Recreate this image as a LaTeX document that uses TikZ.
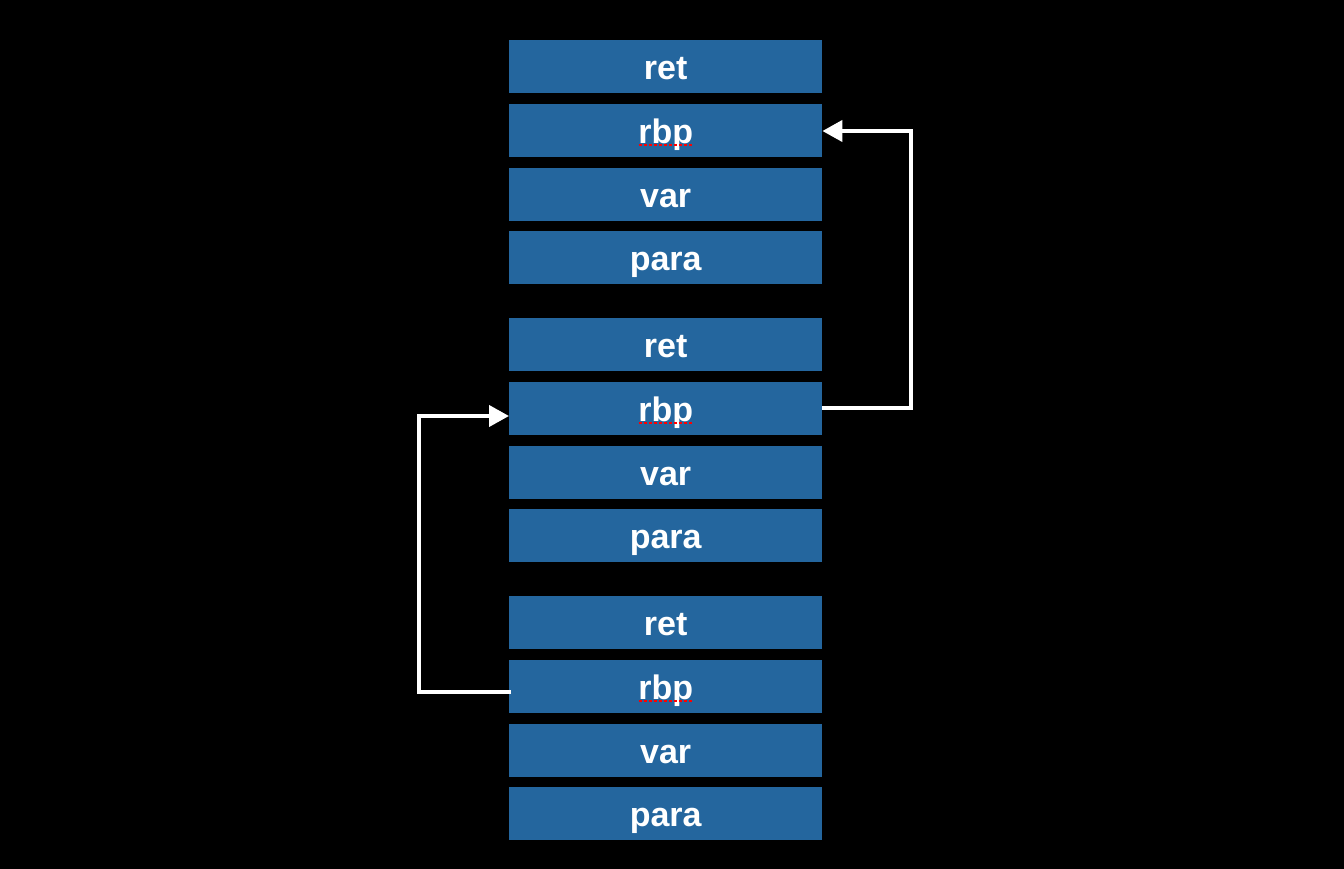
\documentclass[tikz,border=0pt]{standalone}
\usepackage{fontspec}
\setmainfont{Liberation Sans}
\usetikzlibrary{arrows.meta}
\definecolor{boxblue}{RGB}{36,102,158}
\begin{document}
\begin{tikzpicture}[x=1pt,y=-1pt,
  cell/.style={fill=boxblue,draw=none,minimum width=313pt,minimum height=53pt,inner sep=0pt,
    text height=28pt,text depth=2pt,
    text=white,font=\bfseries\fontsize{34}{40}\selectfont,anchor=north west},
  link/.style={draw=white,line width=4pt,-{Triangle[length=20pt,width=21pt]}},
  squig/.style={draw=red,line width=2pt,dash pattern=on 3pt off 2pt}]
\fill[black] (0,0) rectangle (1344,869);
\useasboundingbox (0,0) rectangle (1344,869);
\foreach \g/\y in {a/40,b/318,c/596}{
  \node[cell] (\g ret) at (509,\y) {ret};
  \node[cell] (\g rbp) at (509,\y+64) {rbp};
  \node[cell] (\g var) at (509,\y+128) {var};
  \node[cell] (\g para) at (509,\y+191) {para};
  \draw[squig] ([xshift=-27pt,yshift=-14pt]\g rbp.center) -- ([xshift=27pt,yshift=-14pt]\g rbp.center);
}
\coordinate (r1) at (911,408);
\coordinate (r2) at (911,131);
\draw[link] (r1 -| brbp.east) -- (r1) -- (r2) -- (r2 -| arbp.east);
\coordinate (l1) at (419,692);
\coordinate (l2) at (419,416);
\draw[link] ([xshift=2pt]l1 -| crbp.west) -- (l1) -- (l2) -- (l2 -| brbp.west);
\end{tikzpicture}
\end{document}
